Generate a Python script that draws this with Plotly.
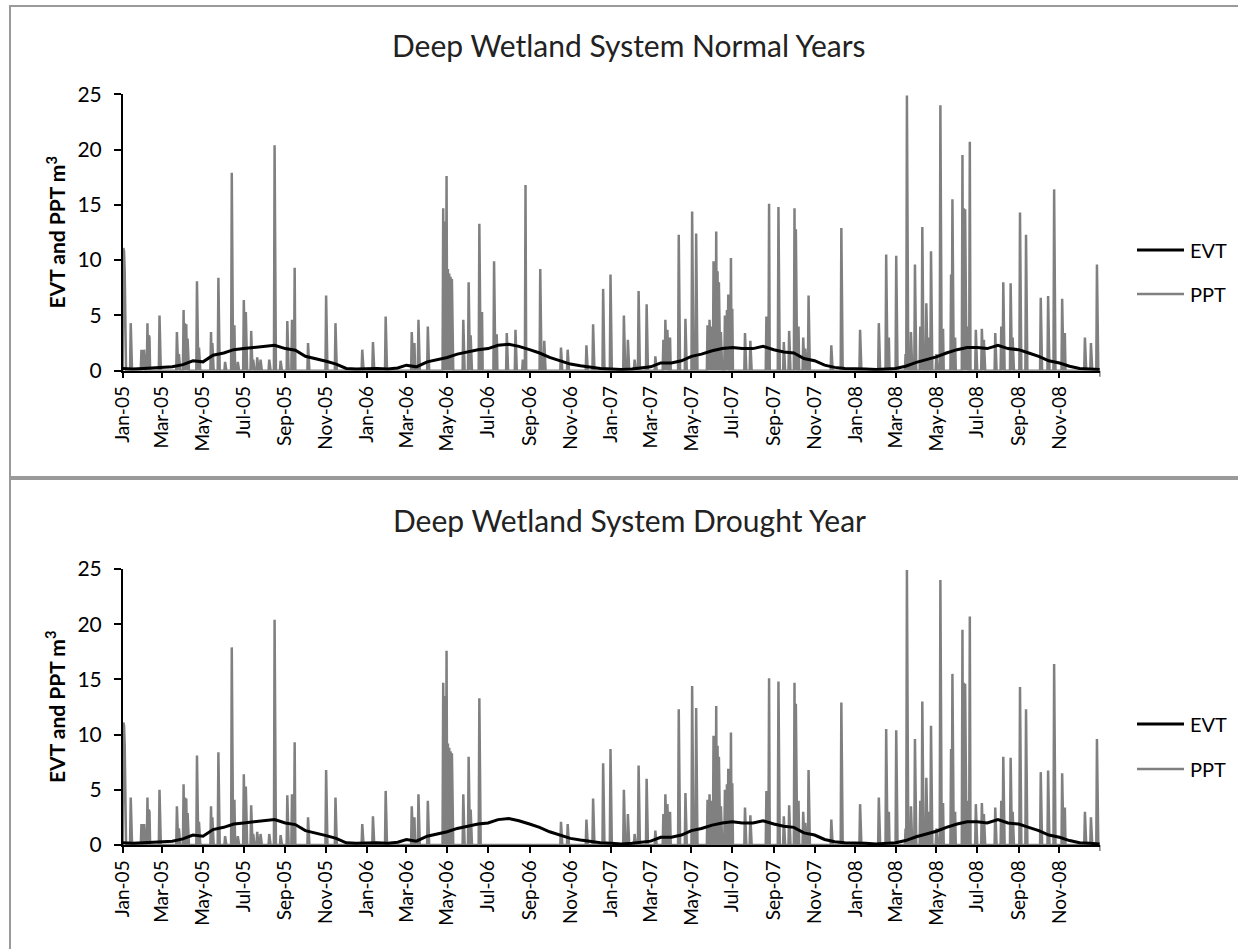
import pandas as pd
import plotly.graph_objects as go

# ---------------------------------------------------------------------------
# Data
# ---------------------------------------------------------------------------
# Daily precipitation volume (PPT, m^3) on rain days; every other day is 0.
ppt_dates = [
    "2005-01-02", "2005-01-03", "2005-01-04", "2005-01-13", "2005-01-29", "2005-01-31",
    "2005-02-02", "2005-02-07", "2005-02-09", "2005-02-10", "2005-02-25", "2005-03-23",
    "2005-03-26", "2005-04-02", "2005-04-04", "2005-04-06", "2005-04-08", "2005-04-22",
    "2005-04-25", "2005-05-13", "2005-05-15", "2005-05-24", "2005-06-03", "2005-06-13",
    "2005-06-17", "2005-06-22", "2005-07-01", "2005-07-04", "2005-07-12", "2005-07-15",
    "2005-07-21", "2005-07-26", "2005-08-08", "2005-08-16", "2005-08-25", "2005-09-04",
    "2005-09-11", "2005-09-15", "2005-10-05", "2005-11-01", "2005-11-15", "2005-12-25",
    "2006-01-10", "2006-01-29", "2006-03-09", "2006-03-13", "2006-03-19", "2006-04-02",
    "2006-04-25", "2006-04-27", "2006-04-30", "2006-05-02", "2006-05-04", "2006-05-06",
    "2006-05-08", "2006-05-25", "2006-06-02", "2006-06-05", "2006-06-18", "2006-06-22",
    "2006-07-10", "2006-07-14", "2006-07-29", "2006-08-11", "2006-08-22", "2006-08-26",
    "2006-09-17", "2006-09-23", "2006-10-18", "2006-10-28", "2006-11-25", "2006-12-05",
    "2006-12-20", "2006-12-31",
    "2007-01-20", "2007-01-26", "2007-02-05", "2007-02-11", "2007-02-23", "2007-03-08",
    "2007-03-20", "2007-03-23", "2007-03-26", "2007-03-30", "2007-04-12", "2007-04-22",
    "2007-05-02", "2007-05-08", "2007-05-25", "2007-05-28", "2007-05-31", "2007-06-03",
    "2007-06-05", "2007-06-07", "2007-06-09", "2007-06-11", "2007-06-14", "2007-06-20",
    "2007-06-23", "2007-06-25", "2007-06-29", "2007-07-01", "2007-07-20", "2007-07-28",
    "2007-08-21", "2007-08-25", "2007-09-08", "2007-09-16", "2007-09-24", "2007-10-02",
    "2007-10-04", "2007-10-08", "2007-10-15", "2007-10-18", "2007-10-23", "2007-11-26",
    "2007-12-11",
    "2008-01-08", "2008-02-05", "2008-02-16", "2008-02-20", "2008-03-02", "2008-03-16",
    "2008-03-18", "2008-03-24", "2008-03-30", "2008-04-07", "2008-04-10", "2008-04-16",
    "2008-04-20", "2008-04-23", "2008-05-01", "2008-05-07", "2008-05-11", "2008-05-23",
    "2008-05-25", "2008-05-29", "2008-06-09", "2008-06-11", "2008-06-13", "2008-06-16",
    "2008-06-20", "2008-06-29", "2008-07-08", "2008-07-11", "2008-07-28", "2008-08-06",
    "2008-08-09", "2008-08-20", "2008-08-23", "2008-09-03", "2008-09-12", "2008-10-04",
    "2008-10-15", "2008-10-24", "2008-11-05", "2008-11-09", "2008-12-09", "2008-12-18",
    "2008-12-27",
]
ppt_values = [
    11.1, 10.8, 9.0, 4.3, 1.9, 1.9,
    1.9, 4.3, 3.2, 3.0, 5.0, 3.5,
    1.5, 5.5, 4.3, 4.2, 2.9, 8.1,
    2.1, 3.5, 2.5, 8.4, 0.8, 17.9,
    4.1, 0.8, 6.4, 5.3, 3.6, 1.0,
    1.2, 1.0, 1.0, 20.4, 0.9, 4.5,
    4.6, 9.3, 2.5, 6.8, 4.3, 1.9,
    2.6, 4.9, 3.5, 2.5, 4.6, 4.0,
    14.7, 13.5, 17.6, 9.2, 8.8, 8.5,
    8.3, 4.6, 8.0, 3.2, 13.3, 5.3,
    9.9, 3.3, 3.4, 3.7, 1.0, 16.8,
    9.2, 2.7, 2.1, 1.9, 2.3, 4.2,
    7.4, 8.7,
    5.0, 2.8, 1.0, 7.2, 6.0, 1.3,
    2.8, 4.6, 3.7, 3.0, 12.3, 4.7,
    14.4, 12.4, 4.1, 4.6, 4.0, 9.9,
    6.0, 12.6, 9.0, 8.0, 3.5, 5.0,
    5.5, 6.9, 10.2, 5.6, 3.4, 2.7,
    4.9, 15.1, 14.8, 2.6, 3.6, 14.7,
    12.8, 4.0, 3.0, 2.0, 6.8, 2.3,
    12.9,
    3.7, 4.3, 10.5, 3.0, 10.4, 1.5,
    24.9, 3.5, 9.6, 4.0, 13.0, 6.1,
    3.0, 10.8, 1.5, 24.0, 3.8, 8.7,
    15.5, 3.0, 19.5, 14.7, 14.6, 4.0,
    20.7, 3.7, 3.8, 2.8, 3.4, 4.0,
    8.0, 7.9, 3.0, 14.3, 12.3, 6.6,
    6.75, 16.4, 6.5, 3.4, 3.0, 2.5,
    9.6,
]

# Rainless stretch of the simulated drought year
drought_dry_spell = ("2006-06-20", "2006-10-15")

# Evapotranspiration (EVT, m^3), read twice a month
evt_dates = [
    "2005-01-01", "2005-01-16", "2005-02-01", "2005-02-16", "2005-03-01", "2005-03-16",
    "2005-04-01", "2005-04-16", "2005-05-01", "2005-05-16", "2005-06-01", "2005-06-16",
    "2005-07-01", "2005-07-16", "2005-08-01", "2005-08-16", "2005-09-01", "2005-09-16",
    "2005-10-01", "2005-10-16", "2005-11-01", "2005-11-16", "2005-12-01", "2005-12-16",
    "2006-01-01", "2006-01-16", "2006-02-01", "2006-02-16", "2006-03-01", "2006-03-16",
    "2006-04-01", "2006-04-16", "2006-05-01", "2006-05-16", "2006-06-01", "2006-06-16",
    "2006-07-01", "2006-07-16", "2006-08-01", "2006-08-16", "2006-09-01", "2006-09-16",
    "2006-10-01", "2006-10-16", "2006-11-01", "2006-11-16", "2006-12-01", "2006-12-16",
    "2007-01-01", "2007-01-16", "2007-02-01", "2007-02-16", "2007-03-01", "2007-03-16",
    "2007-04-01", "2007-04-16", "2007-05-01", "2007-05-16", "2007-06-01", "2007-06-16",
    "2007-07-01", "2007-07-16", "2007-08-01", "2007-08-16", "2007-09-01", "2007-09-16",
    "2007-10-01", "2007-10-16", "2007-11-01", "2007-11-16", "2007-12-01", "2007-12-16",
    "2008-01-01", "2008-01-16", "2008-02-01", "2008-02-16", "2008-03-01", "2008-03-16",
    "2008-04-01", "2008-04-16", "2008-05-01", "2008-05-16", "2008-06-01", "2008-06-16",
    "2008-07-01", "2008-07-16", "2008-08-01", "2008-08-16", "2008-09-01", "2008-09-16",
    "2008-10-01", "2008-10-16", "2008-11-01", "2008-11-16", "2008-12-01", "2008-12-16",
    "2008-12-31",
]
evt_values = [
    0.2, 0.15, 0.2, 0.25, 0.3, 0.35,
    0.55, 0.9, 0.8, 1.4, 1.6, 1.9,
    2.0, 2.1, 2.2, 2.3, 2.0, 1.85,
    1.3, 1.1, 0.85, 0.6, 0.2, 0.15,
    0.2, 0.2, 0.15, 0.25, 0.5, 0.35,
    0.8, 1.0, 1.2, 1.5, 1.7, 1.9,
    2.0, 2.3, 2.4, 2.2, 1.9, 1.6,
    1.2, 0.9, 0.6, 0.45, 0.3, 0.2,
    0.15, 0.1, 0.15, 0.25, 0.35, 0.7,
    0.7, 0.9, 1.3, 1.5, 1.8, 2.0,
    2.1, 2.0, 2.0, 2.2, 1.9, 1.7,
    1.6, 1.1, 0.9, 0.5, 0.3, 0.2,
    0.2, 0.15, 0.1, 0.15, 0.2, 0.4,
    0.75, 1.0, 1.25, 1.6, 1.9, 2.1,
    2.1, 2.0, 2.3, 2.0, 1.9, 1.6,
    1.3, 0.9, 0.7, 0.4, 0.2, 0.15,
    0.1,
]

tick_labels = [
    "Jan-05", "Mar-05", "May-05", "Jul-05", "Sep-05", "Nov-05",
    "Jan-06", "Mar-06", "May-06", "Jul-06", "Sep-06", "Nov-06",
    "Jan-07", "Mar-07", "May-07", "Jul-07", "Sep-07", "Nov-07",
    "Jan-08", "Mar-08", "May-08", "Jul-08", "Sep-08", "Nov-08",
]

panel_titles = ["Deep Wetland System Normal Years", "Deep Wetland System Drought Year"]

# ---------------------------------------------------------------------------
# Daily PPT series for both scenarios
# ---------------------------------------------------------------------------
days = pd.date_range("2005-01-01", "2008-12-31", freq="D")
ppt_normal = pd.Series(0.0, index=days)
ppt_normal.loc[pd.to_datetime(ppt_dates)] = ppt_values
ppt_drought = ppt_normal.copy()
ppt_drought.loc[drought_dry_spell[0]:drought_dry_spell[1]] = 0.0

# ---------------------------------------------------------------------------
# Figure
# ---------------------------------------------------------------------------
W, H = 1238, 949
FONT = "Lato"
PPT_COLOR = "#808080"
EVT_COLOR = "#000000"
X_START, X_END = "2005-01-01", "2009-01-01"


def px_x(x):
    return x / W


def px_y(y):
    return 1 - y / H


fig = go.Figure()

panels = [
    dict(ppt=ppt_normal, top=94.3, bottom=370.7, xa="x", ya="y", title_y=45,
         legend_y=(250, 294)),
    dict(ppt=ppt_drought, top=569.0, bottom=845.0, xa="x2", ya="y2", title_y=520,
         legend_y=(724, 769)),
]

for p in panels:
    fig.add_trace(go.Scatter(
        x=p["ppt"].index, y=p["ppt"].values, mode="lines", name="PPT",
        line=dict(color=PPT_COLOR, width=2.5), xaxis=p["xa"], yaxis=p["ya"],
        showlegend=False,
    ))
    fig.add_trace(go.Scatter(
        x=pd.to_datetime(evt_dates), y=evt_values, mode="lines", name="EVT",
        line=dict(color=EVT_COLOR, width=3), xaxis=p["xa"], yaxis=p["ya"],
        showlegend=False,
    ))

tick_dates = list(pd.date_range("2005-01-01", "2008-11-01", freq="2MS"))

x_domain = [px_x(122.7), px_x(1100.3)]
axis_common_x = dict(
    type="date", range=[X_START, X_END], domain=x_domain, automargin=False,
    tickmode="array", tickvals=tick_dates, ticktext=tick_labels, tickangle=-90,
    ticks="outside", ticklen=6, tickwidth=1.5, tickcolor="#000",
    showline=True, linecolor="#000", linewidth=1.5, showgrid=False, zeroline=False,
    tickfont=dict(family=FONT, size=19, color="#000"),
)
axis_common_y = dict(
    range=[0, 25], tickmode="array", tickvals=[0, 5, 10, 15, 20, 25], automargin=False,
    ticks="outside", ticklen=7, tickwidth=1.5, tickcolor="#000",
    showline=True, linecolor="#000", linewidth=1.5, showgrid=False, zeroline=False,
    tickfont=dict(family=FONT, size=21, color="#000"), ticklabelstandoff=8,
)

fig.update_layout(
    width=W, height=H,
    margin=dict(l=0, r=0, t=0, b=0, autoexpand=False),
    paper_bgcolor="white", plot_bgcolor="white",
    xaxis=dict(axis_common_x, anchor="y"),
    yaxis=dict(axis_common_y, anchor="x",
               domain=[px_y(panels[0]["bottom"]), px_y(panels[0]["top"])]),
    xaxis2=dict(axis_common_x, anchor="y2"),
    yaxis2=dict(axis_common_y, anchor="x2",
                domain=[px_y(panels[1]["bottom"]), px_y(panels[1]["top"])]),
    showlegend=False,
)

shapes = []
annotations = []
# Chart-area frames
shapes.append(dict(type="rect", xref="paper", yref="paper",
                   x0=px_x(10), x1=1.05, y0=px_y(477), y1=px_y(6),
                   line=dict(color="#9a9a9a", width=2), fillcolor="rgba(0,0,0,0)"))
shapes.append(dict(type="rect", xref="paper", yref="paper",
                   x0=px_x(10), x1=1.05, y0=-0.05, y1=px_y(479),
                   line=dict(color="#9a9a9a", width=2), fillcolor="rgba(0,0,0,0)"))

for p, title in zip(panels, panel_titles):
    # closing tick mark at the end of the date axis
    plot_h = p["bottom"] - p["top"]
    shapes.append(dict(type="line", xref=p["xa"], yref=p["ya"] + " domain",
                       x0=X_END, x1=X_END, y0=0, y1=-6 / plot_h,
                       line=dict(color="#000", width=1.5)))
    annotations.append(dict(
        text=title, xref="paper", yref="paper", x=px_x(629), y=px_y(p["title_y"]),
        xanchor="center", yanchor="middle", showarrow=False,
        font=dict(family=FONT, size=30, color="#222"),
    ))
    annotations.append(dict(
        text="EVT and PPT m<sup>3</sup>", xref="paper", yref="paper",
        x=px_x(55), y=px_y((p["top"] + p["bottom"]) / 2), textangle=-90,
        xanchor="center", yanchor="middle", showarrow=False,
        font=dict(family=FONT, size=21, color="#000", weight="bold"),
    ))
    # Legend entries
    for name, color, width, ly in [("EVT", EVT_COLOR, 3, p["legend_y"][0]),
                                   ("PPT", PPT_COLOR, 2.5, p["legend_y"][1])]:
        shapes.append(dict(type="line", xref="paper", yref="paper",
                           x0=px_x(1137), x1=px_x(1184), y0=px_y(ly), y1=px_y(ly),
                           line=dict(color=color, width=width)))
        annotations.append(dict(
            text=name, xref="paper", yref="paper", x=px_x(1188), y=px_y(ly),
            xanchor="left", yanchor="middle", showarrow=False,
            font=dict(family=FONT, size=20, color="#000"),
        ))

fig.update_layout(shapes=shapes, annotations=annotations)

fig.write_html("out.html")
